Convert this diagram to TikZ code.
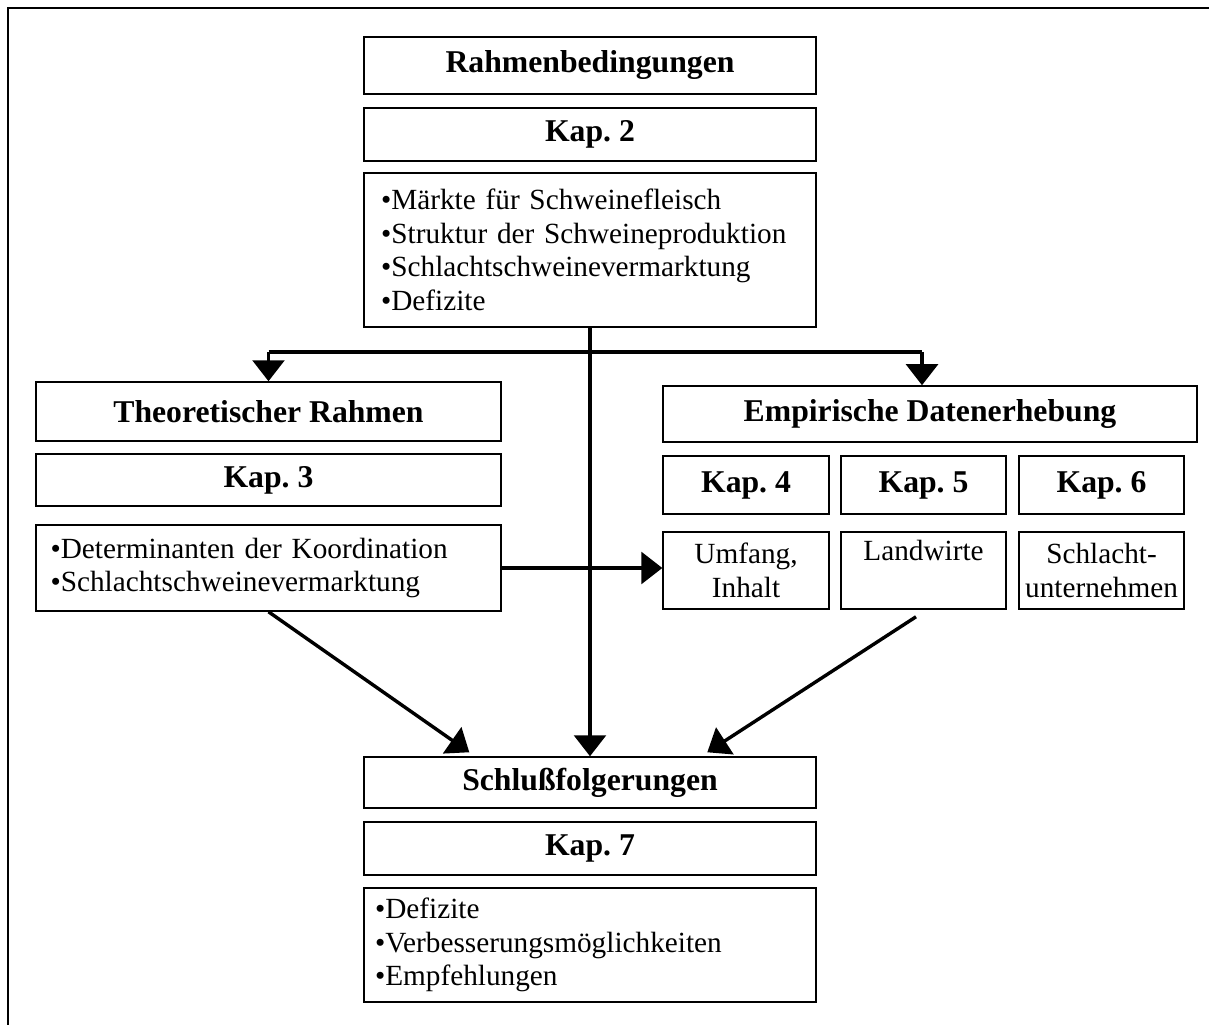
\documentclass[tikz,border=0pt]{standalone}
\usepackage{fontspec}
\setmainfont{Liberation Serif}
\frenchspacing
\usetikzlibrary{arrows.meta,calc,positioning}

\begin{document}
\begin{tikzpicture}[x=0.41pt,y=-0.41pt,
    box/.style={draw, line width=0.6pt, inner sep=0pt, align=center,
      font=\fontsize{12}{13.8}\selectfont},
    headbox/.style={box, font=\fontsize{13}{15}\selectfont\bfseries},
    listbox/.style={box, align=left, inner xsep=#1},
    conn/.style={line width=1.4pt, -{Triangle[width=13pt,length=8.6pt]}},
    thickline/.style={line width=1.4pt}]
  \useasboundingbox (0,0) rectangle (1209,1025);

  % outer frame (top and left only)
  \draw[line width=0.8pt] (8,1025) -- (8,8) -- (1209,8);

  % Kap. 2 column
  \node[headbox, minimum width=185.3pt, minimum height=23.4pt] (rb) at (590,65.5) {Rahmenbedingungen};
  \node[headbox, minimum width=185.3pt, minimum height=21.7pt] (k2) at (590,134.5) {Kap. 2};
  \node[listbox=7pt, text width=171.3pt, minimum height=63.1pt] (k2list) at (590,250)
    {•Märkte für Schweinefleisch\\•Struktur der Schweineproduktion\\•Schlachtschweinevermarktung\\•Defizite};

  % theory, left
  \node[headbox, minimum width=190.7pt, minimum height=24.2pt] (thr) at (268.5,411.5) {Theoretischer Rahmen};
  \node[headbox, minimum width=190.7pt, minimum height=21.3pt] (k3) at (268.5,480) {Kap. 3};
  \node[listbox=6pt, text width=178.7pt, minimum height=35.3pt] (k3list) at (268.5,568)
    {•Determinanten der Koordination\\•Schlachtschweinevermarktung};

  % empirical part, right
  \node[headbox, minimum width=218.9pt, minimum height=23pt] (emp) at (930,414) {Empirische Datenerhebung};
  \node[headbox, minimum width=68pt, minimum height=23.8pt] (k4) at (746,485) {Kap. 4};
  \node[headbox, minimum width=67.7pt, minimum height=23.8pt] (k5) at (923.5,485) {Kap. 5};
  \node[headbox, minimum width=67.7pt, minimum height=23.8pt] (k6) at (1101.5,485) {Kap. 6};
  \node[box, minimum width=68pt, minimum height=31.6pt] (umf) at (746,570.5) {Umfang,\\Inhalt};
  \node[box, minimum width=67.7pt, minimum height=31.6pt] (lw) at (923.5,570.5) {Landwirte\\\phantom{g}};
  \node[box, minimum width=67.7pt, minimum height=31.6pt] (su) at (1101.5,570.5) {Schlacht-\\unternehmen};

  % conclusions
  \node[headbox, minimum width=185.3pt, minimum height=20.9pt] (sf) at (590,782.5) {Schlußfolgerungen};
  \node[headbox, minimum width=185.3pt, minimum height=21.7pt] (k7) at (590,848.5) {Kap. 7};
  \node[listbox=4.5pt, text width=176.3pt, minimum height=46.7pt] (k7list) at (590,945)
    {•Defizite\\•Verbesserungsmöglichkeiten\\•Empfehlungen};

  % branching below Kap. 2
  \coordinate (barL) at (268.5,352);
  \coordinate (barR) at (922,352);
  \draw[thickline] (barL) -- (barR);
  \draw[conn] (barL) -- (thr.north);
  \draw[conn] (barR) -- (barR |- emp.north);
  \draw[conn] (k2list.south) -- (sf.north);

  % theory feeds the survey
  \draw[conn] (k3list.east) -- (k3list.east -| umf.west);

  % into the conclusions
  \draw[conn] (k3list.south) -- ($(sf.north west)+(106,-4)$);
  \draw[conn] ($(lw.south)+(-7.5,7)$) -- ($(sf.north west)+(344,-4)$);
\end{tikzpicture}
\end{document}
